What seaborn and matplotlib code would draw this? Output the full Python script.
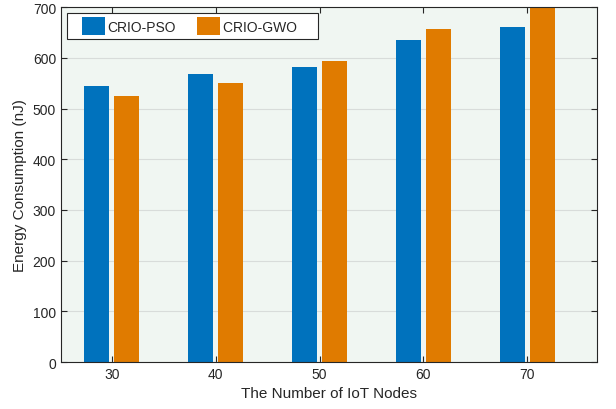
import seaborn as sns
import pandas as pnd
import matplotlib.pyplot as plt
from matplotlib.patches import Rectangle
from matplotlib.legend_handler import HandlerPatch

nodes = [30, 40, 50, 60, 70]
pso = [544, 568, 582, 635, 661]
gwo = [525, 550, 594, 657, 705]

df = pnd.DataFrame({
    "nodes": nodes * 2,
    "energy": pso + gwo,
    "method": ["CRIO-PSO"] * len(nodes) + ["CRIO-GWO"] * len(nodes),
})

sns.set_style("ticks")
plt.rcParams['font.family'] = ['Liberation Sans', 'DejaVu Sans']

fig = plt.figure(figsize=(6.16, 4.10), dpi=100)
ax = fig.add_axes([0.099, 0.1146, 0.87, 0.8654])
ax.set_facecolor('#F0F6F2')

sns.barplot(data=df, x="nodes", y="energy", hue="method", ax=ax,
            palette=['#0072BD', '#E07B00'], width=0.58, gap=0.17,
            saturation=1, edgecolor='none')

ax.set_xlim(-0.49, 4.67)
ax.set_ylim(0, 700)
ax.set_yticks(range(0, 701, 100))
ax.yaxis.grid(True, color='#D8DCDA', linewidth=0.8)
ax.set_axisbelow(True)
ax.tick_params(direction='in', top=True, right=True, labelsize=10, colors='#262626', length=4)
for s in ax.spines.values():
    s.set_visible(True)
    s.set_color('#262626')
    s.set_linewidth(0.8)
ax.set_xlabel('The Number of IoT Nodes', fontsize=11, color='#262626')
ax.set_ylabel('Energy Consumption (nJ)', fontsize=11, color='#262626')

# patch sits at the right of a wider handle box -> extra space on the left (MATLAB look)
def right_patch(legend, orig_handle, xdescent, ydescent, width, height, fontsize):
    w = 17.0
    return Rectangle((width - w - xdescent, -ydescent - 1), w, height + 2)

handles, labels = ax.get_legend_handles_labels()
labels = [labels[0], labels[1] + '    ']
leg = ax.legend(handles, labels, loc='upper left', ncol=2, fontsize=10, frameon=True,
                fancybox=False, edgecolor='#262626', handlelength=2.4, handleheight=1.3,
                handletextpad=0.15, columnspacing=0.8, borderpad=0.4,
                borderaxespad=0.4, bbox_to_anchor=(0.0, 1.0),
                handler_map={Rectangle: HandlerPatch(patch_func=right_patch)})
leg.get_frame().set_linewidth(0.8)
leg.get_frame().set_alpha(1)

fig.savefig('out.png', dpi=100)
